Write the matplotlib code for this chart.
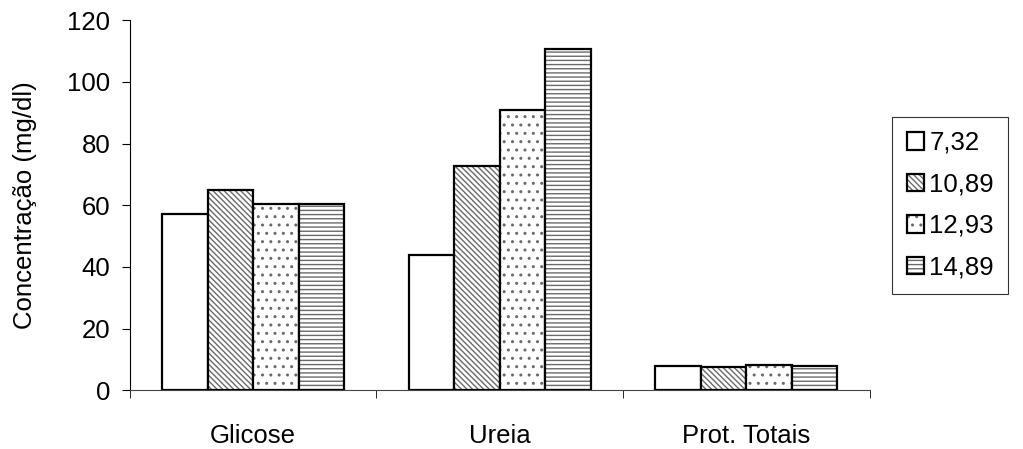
import matplotlib

matplotlib.use("Agg")
import matplotlib.pyplot as plt
import numpy as np

plt.rcParams["font.family"] = ["Liberation Sans", "DejaVu Sans"]
plt.rcParams["hatch.linewidth"] = 1.0

categories = ["Glicose", "Ureia", "Prot. Totais"]
series_labels = ["7,32", "10,89", "12,93", "14,89"]
values = [
    [57.0, 43.7, 7.7],
    [65.0, 72.8, 7.6],
    [60.3, 91.0, 8.1],
    [60.5, 110.5, 7.9],
]
hatches = [None, "\\\\\\\\\\\\", "..", "----"]
yticks = [0, 20, 40, 60, 80, 100, 120]
fs = 18.5
hatch_gray = "#6a6a6a"

fig = plt.figure(figsize=(10.23, 4.49), dpi=100)
ax = fig.add_axes([0.127, 0.131, 0.723, 0.824])

x = np.arange(len(categories))
width = 0.185
handles = []
for i, (label, vals, hatch) in enumerate(zip(series_labels, values, hatches)):
    offset = (i - 1.5) * width
    # gray hatch fill first, then a black outline on top
    fill = ax.bar(
        x + offset,
        vals,
        width=width,
        facecolor="white",
        edgecolor=hatch_gray,
        linewidth=0,
        hatch=hatch,
    )
    outline = ax.bar(
        x + offset,
        vals,
        width=width,
        fill=False,
        edgecolor="black",
        linewidth=1.6,
    )
    handles.append((fill, outline))

ax.set_xlim(-0.5, len(categories) - 0.5)
ax.set_ylim(0, 120)
ax.set_yticks(yticks)
ax.set_xticks(x)
ax.set_xticklabels(categories)
ax.tick_params(axis="x", length=0, labelsize=fs, pad=24)
ax.tick_params(axis="y", length=6, labelsize=fs, pad=8)
ax.set_xticks(np.arange(len(categories) + 1) - 0.5, minor=True)
ax.tick_params(axis="x", which="minor", length=6, direction="out")
ax.set_ylabel("Concentração (mg/dl)", fontsize=fs, labelpad=22)

for side in ("top", "right"):
    ax.spines[side].set_visible(False)
ax.spines["left"].set_linewidth(0.8)
ax.spines["bottom"].set_linewidth(0.8)
ax.spines["bottom"].set_color("#444444")

leg = ax.legend(
    handles,
    series_labels,
    loc="center left",
    bbox_to_anchor=(1.031, 0.5),
    fontsize=fs,
    frameon=True,
    fancybox=False,
    edgecolor="black",
    handlelength=0.68,
    handleheight=0.68,
    handletextpad=0.2,
    labelspacing=0.68,
    borderpad=0.55,
    borderaxespad=0,
)
leg.get_frame().set_linewidth(0.8)

fig.savefig("out.png", dpi=100)
